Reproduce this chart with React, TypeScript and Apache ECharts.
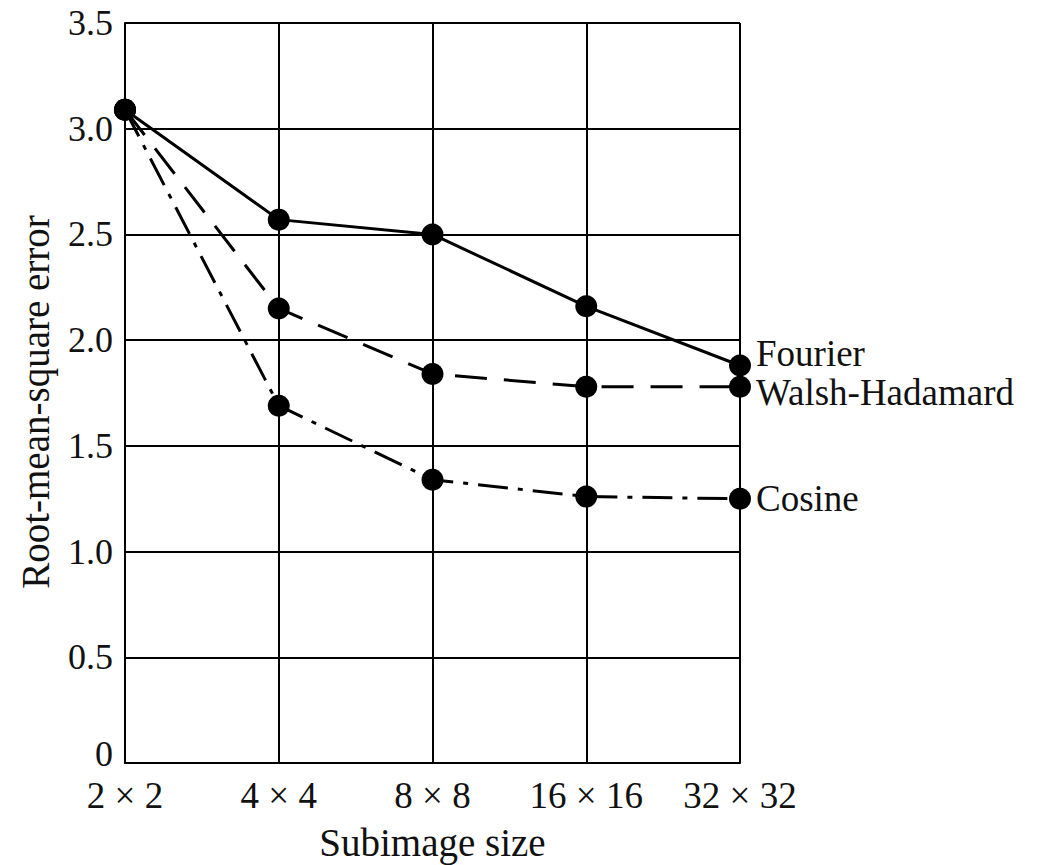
import React, { useEffect, useRef } from "react";
import * as echarts from "echarts";

const categories = ["2 × 2", "4 × 4", "8 × 8", "16 × 16", "32 × 32"];
const fourier = [3.09, 2.57, 2.5, 2.16, 1.88];
const walsh = [3.09, 2.15, 1.84, 1.78, 1.78];
const cosine = [3.09, 1.69, 1.34, 1.26, 1.25];
const yTicks = [0, 0.5, 1.0, 1.5, 2.0, 2.5, 3.0, 3.5];

const FONT = "'Liberation Serif', 'Times New Roman', serif";

export default function App() {
  const ref = useRef<HTMLDivElement>(null);
  useEffect(() => {
    document.body.style.margin = "0";
    const chart = echarts.init(ref.current!, null, { renderer: "svg" });
    const mkSeries = (name: string, data: number[], type: any, offset: number[]) => ({
      name,
      type: "line",
      data,
      symbol: "circle",
      symbolSize: 22,
      itemStyle: { color: "#000" },
      lineStyle: { color: "#000", width: 3, type },
      endLabel: {
        show: true,
        formatter: name,
        fontFamily: FONT,
        fontSize: 37,
        color: "#111",
        offset,
      },
      z: 3,
    });
    chart.setOption({
      animation: false,
      backgroundColor: "#fff",
      textStyle: { fontFamily: FONT },
      grid: {
        left: 125,
        top: 23,
        right: 305,
        bottom: 102,
        containLabel: false,
        outerBoundsMode: "none",
      },
      xAxis: {
        type: "category",
        data: categories,
        boundaryGap: false,
        name: "Subimage size",
        nameLocation: "middle",
        nameGap: 60,
        nameTextStyle: { fontFamily: FONT, fontSize: 39, color: "#111" },
        axisLine: { show: true, lineStyle: { color: "#000", width: 2 } },
        axisTick: { show: false },
        axisLabel: { fontFamily: FONT, fontSize: 37, color: "#111", margin: 14 },
        splitLine: { show: true, lineStyle: { color: "#000", width: 2 } },
      },
      yAxis: {
        type: "value",
        min: 0,
        max: 3.5,
        interval: 0.5,
        name: "Root-mean-square error",
        nameLocation: "middle",
        nameGap: 70,
        nameTextStyle: {
          fontFamily: FONT,
          fontSize: 39,
          color: "#111",
          padding: [0, 18, 0, 0],
        },
        axisLine: { show: true, lineStyle: { color: "#000", width: 2 } },
        axisTick: { show: false },
        axisLabel: {
          fontFamily: FONT,
          fontSize: 36,
          color: "#111",
          margin: 12,
          formatter: (v: number) =>
            yTicks.includes(v) ? (v === 0 ? "{z|0}" : v.toFixed(1)) : "",
          rich: {
            z: {
              fontFamily: FONT,
              fontSize: 36,
              color: "#111",
              padding: [0, 0, 18, 0],
            },
          },
        },
        splitLine: { show: true, lineStyle: { color: "#000", width: 2 } },
      },
      series: [
        mkSeries("Fourier", fourier, "solid", [8, -12]),
        mkSeries("Walsh-Hadamard", walsh, [32, 17], [8, 6]),
        mkSeries("Cosine", cosine, [30, 10, 5, 10], [8, 0]),
      ],
    });
    return () => chart.dispose();
  }, []);
  return <div ref={ref} style={{ width: 1045, height: 865 }} />;
}
